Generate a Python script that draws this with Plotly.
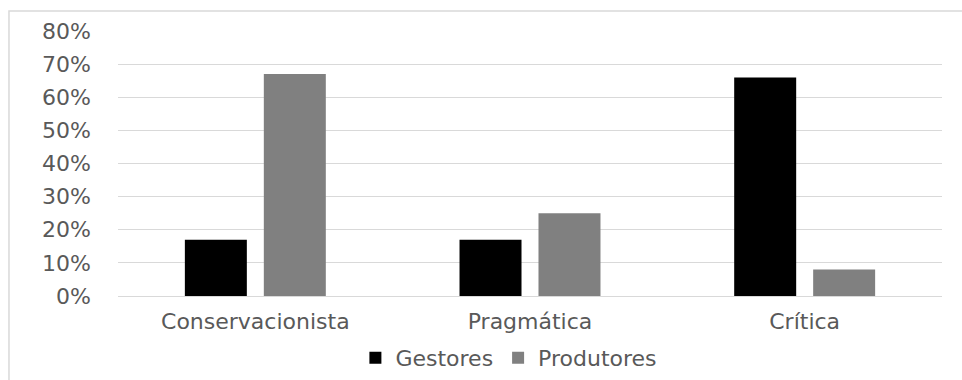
import plotly.graph_objects as go

categories = ["Conservacionista", "Pragmática", "Crítica"]
gestores = [0.17, 0.17, 0.66]
produtores = [0.67, 0.25, 0.08]
y_ticks = [0, 0.1, 0.2, 0.3, 0.4, 0.5, 0.6, 0.7, 0.8]
y_tick_labels = ["0%", "10%", "20%", "30%", "40%", "50%", "60%", "70%", "80%"]

FONT = "DejaVu Sans"
TXT = "#595959"
FS = 22

fig = go.Figure()
fig.add_trace(go.Bar(name="Gestores", x=categories, y=gestores,
                     marker=dict(color="#000000", line=dict(width=0))))
fig.add_trace(go.Bar(name="Produtores", x=categories, y=produtores,
                     marker=dict(color="#808080", line=dict(width=0))))

fig.update_layout(
    width=962, height=380,
    margin=dict(l=118, r=20, t=31, b=84, autoexpand=False),
    paper_bgcolor="white", plot_bgcolor="white",
    barmode="group", bargap=0.425, bargroupgap=0.215,
    font=dict(family=FONT, size=FS, color=TXT),
    showlegend=True,
    legend=dict(orientation="h", xref="container", yref="container",
                x=0.529, xanchor="center", y=0.058, yanchor="middle",
                font=dict(family=FONT, size=FS, color=TXT), itemsizing="constant",
                itemwidth=30, tracegroupgap=0, bgcolor="rgba(0,0,0,0)"),
    xaxis=dict(showgrid=False, showline=False, zeroline=False, ticks="", automargin=False,
               tickfont=dict(family=FONT, size=FS, color=TXT), ticklabelstandoff=10),
    yaxis=dict(range=[0, 0.8], tickvals=y_ticks, ticktext=y_tick_labels, automargin=False,
               showgrid=True, gridcolor="#d9d9d9", gridwidth=1.3,
               zeroline=True, zerolinecolor="#d9d9d9", zerolinewidth=1.3,
               showline=False, ticks="", ticklabelstandoff=26,
               tickfont=dict(family=FONT, size=FS, color=TXT)),
    shapes=[dict(type="rect", xref="paper", yref="paper",
                 x0=-0.1323, x1=1.04, y0=-0.36, y1=1.0755,
                 line=dict(color="#d9d9d9", width=1.5), fillcolor="rgba(0,0,0,0)",
                 layer="below")],
)

fig.write_html("out.html")
